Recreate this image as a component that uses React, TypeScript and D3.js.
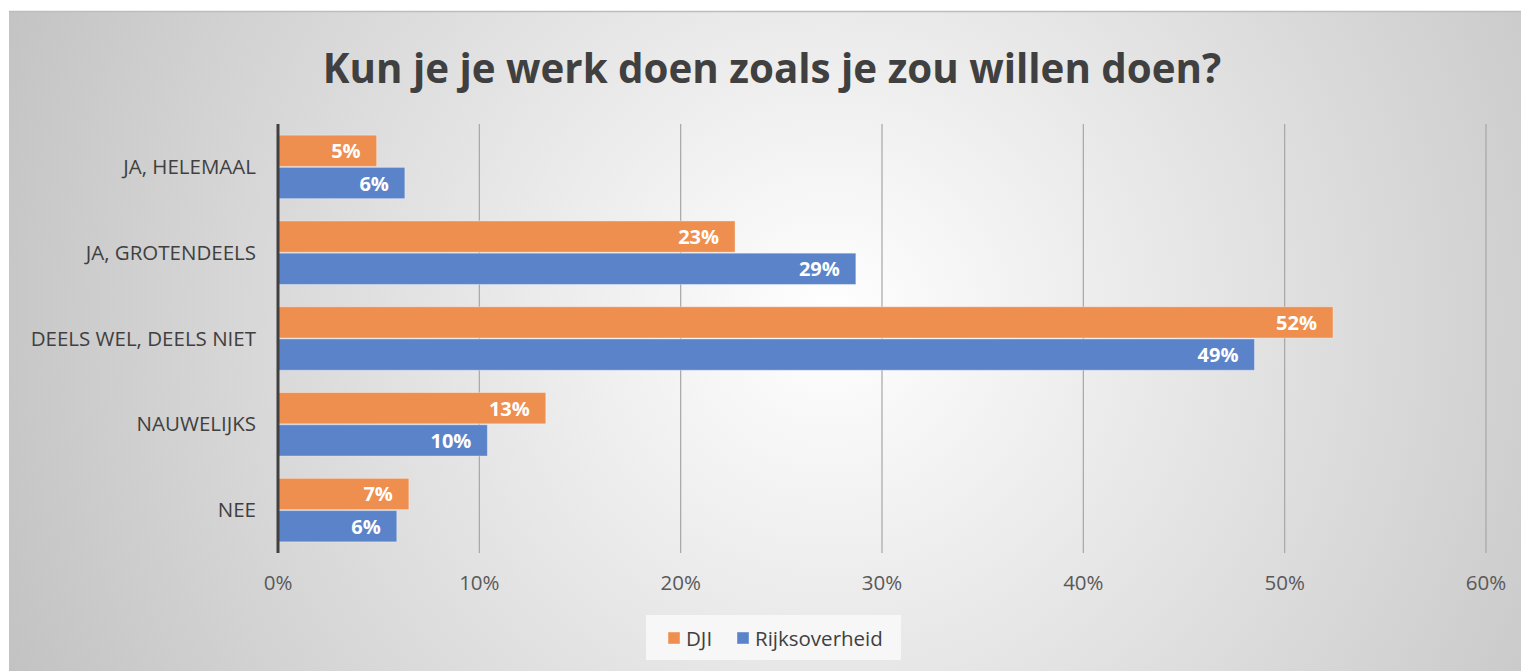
import React from "react";
import * as d3 from "d3";

const categories = ["JA, HELEMAAL", "JA, GROTENDEELS", "DEELS WEL, DEELS NIET", "NAUWELIJKS", "NEE"];
const seriesNames = ["DJI", "Rijksoverheid"];
const djiValues = [4.9, 22.7, 52.4, 13.3, 6.5];
const rijkValues = [6.3, 28.7, 48.5, 10.4, 5.9];
const djiLabels = ["5%", "23%", "52%", "13%", "7%"];
const rijkLabels = ["6%", "29%", "49%", "10%", "6%"];
const xTicks = [0, 10, 20, 30, 40, 50, 60];
const colors = ["#EF8F4F", "#5B83C9"];
const title = "Kun je je werk doen zoals je zou willen doen?";

const W = 1521;
const H = 671;
const FONT = "'Open Sans', 'Noto Sans', sans-serif";

export default function App() {
  const x = d3.scaleLinear().domain([0, 60]).range([278, 1486]);
  const y = d3.scaleBand<string>().domain(categories).range([124, 553]).paddingInner(0.26).paddingOuter(0.13);
  const inner = d3.scaleBand<string>().domain(seriesNames).range([0, y.bandwidth()]).paddingInner(0.03);
  const series = [
    { name: seriesNames[0], values: djiValues, labels: djiLabels, color: colors[0] },
    { name: seriesNames[1], values: rijkValues, labels: rijkLabels, color: colors[1] },
  ];
  return (
    <svg width={W} height={H} style={{ position: "absolute", left: 0, top: 0 }} fontFamily={FONT}>
      <defs>
        <radialGradient id="bg" gradientUnits="userSpaceOnUse" cx={830} cy={320} r={900}>
          <stop offset="0" stopColor="#ffffff" />
          <stop offset="1" stopColor="#c2c2c2" />
        </radialGradient>
      </defs>
      <rect x={0} y={0} width={W} height={H} fill="#ffffff" />
      <rect x={9} y={11} width={W - 9} height={H - 11} fill="url(#bg)" />
      <line x1={9} x2={W} y1={11.5} y2={11.5} stroke="#bdbdbd" strokeWidth={1.5} />
      <text x={772} y={83} textAnchor="middle" fontSize={40.3} fontWeight={700} fill="#404040">{title}</text>
      {xTicks.slice(1).map((t) => (
        <line key={t} x1={x(t)} x2={x(t)} y1={124} y2={553} stroke="#a6a6a6" strokeWidth={1.2} />
      ))}
      {xTicks.map((t) => (
        <text key={"t" + t} x={x(t)} y={590} textAnchor="middle" fontSize={20.5} fill="#595959">{t + "%"}</text>
      ))}
      {categories.map((c) => (
        <text key={c} x={256} y={(y(c) as number) + y.bandwidth() / 2 + 7} textAnchor="end" fontSize={20.5} fill="#404040">{c}</text>
      ))}
      {series.map((s) =>
        categories.map((c, i) => {
          const by = (y(c) as number) + (inner(s.name) as number);
          const bw = x(s.values[i]) - x(0);
          return (
            <g key={s.name + c}>
              <rect x={x(0)} y={by} width={bw} height={inner.bandwidth()} fill={s.color} stroke="#ffffff" strokeOpacity={0.35} strokeWidth={1} />
              <text x={x(s.values[i]) - 16} y={by + inner.bandwidth() / 2 + 7.5} textAnchor="end" fontSize={20} fontWeight={700} fill="#ffffff">{s.labels[i]}</text>
            </g>
          );
        })
      )}
      <line x1={x(0)} x2={x(0)} y1={124} y2={553} stroke="#404040" strokeWidth={3} />
      <rect x={646} y={615} width={255} height={45} fill="#f7f7f7" />
      {series.map((s, i) => {
        const lx = i === 0 ? 668 : 737;
        return (
          <g key={"l" + s.name}>
            <rect x={lx} y={632} width={12} height={12} fill={s.color} stroke="#ffffff" strokeOpacity={0.4} />
            <text x={lx + 18} y={646} fontSize={20.5} fill="#404040">{s.name}</text>
          </g>
        );
      })}
    </svg>
  );
}
